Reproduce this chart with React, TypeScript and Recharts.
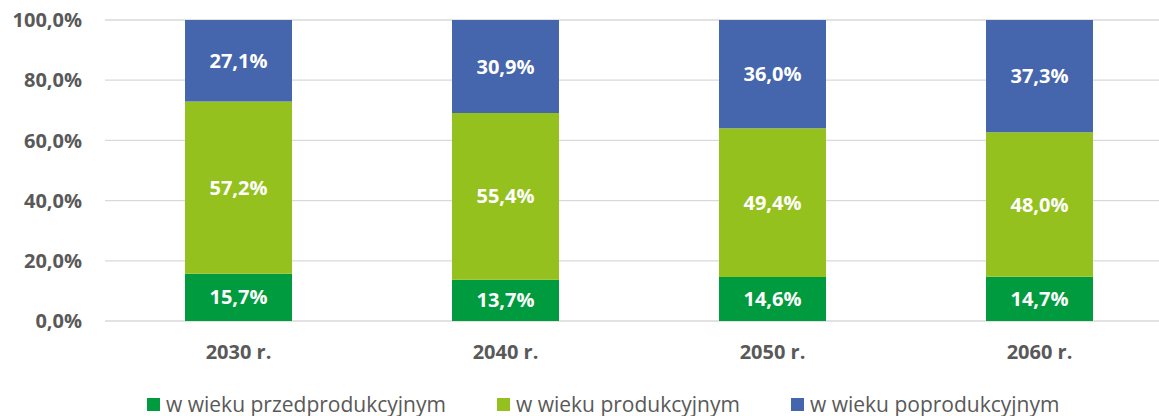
import React from 'react';
import { BarChart, Bar, XAxis, YAxis, CartesianGrid, Legend, LabelList } from 'recharts';

const categories = ['2030 r.', '2040 r.', '2050 r.', '2060 r.'];
const przed = [15.7, 13.7, 14.6, 14.7];
const prod = [57.2, 55.4, 49.4, 48.0];
const poprod = [27.1, 30.9, 36.0, 37.3];
const yTicks = [0, 20, 40, 60, 80, 100];

const seriesNames = ['w wieku przedprodukcyjnym', 'w wieku produkcyjnym', 'w wieku poprodukcyjnym'];
const colors = ['#009B3E', '#95C11F', '#4565AD'];

const data = categories.map((c, i) => ({
  name: c,
  przed: przed[i],
  prod: prod[i],
  poprod: poprod[i],
}));

const FONT = '"Open Sans", sans-serif';
const GRAY = '#595959';

const fmt = (v: number) => `${Number(v).toFixed(1).replace('.', ',')}%`;

const LegendContent = (props: any) => {
  const payload = [...(props.payload || [])].sort(
    (a: any, b: any) => seriesNames.indexOf(a.value) - seriesNames.indexOf(b.value)
  );
  const gaps = [0, 51, 51];
  return (
    <div style={{ display: 'flex', alignItems: 'center', fontFamily: FONT, fontSize: 21, lineHeight: '22px', color: GRAY, whiteSpace: 'nowrap' }}>
      {payload.map((p: any, i: number) => (
        <div key={i} style={{ display: 'flex', alignItems: 'center', marginLeft: gaps[i] }}>
          <span style={{ display: 'inline-block', width: 13, height: 13, background: p.color, marginRight: 6 }} />
          <span>{p.value}</span>
        </div>
      ))}
    </div>
  );
};

export default function App() {
  return (
    <div style={{ position: 'absolute', left: 0, top: 0, width: 1159, height: 416, overflow: 'hidden', background: '#fff' }}>
      <BarChart
        width={1173}
        height={416}
        data={data}
        margin={{ top: 20, right: 0, bottom: 0, left: 0 }}
        barSize={107}
      >
        <CartesianGrid vertical={false} stroke="#D9D9D9" strokeWidth={1.3} />
        <XAxis
          dataKey="name"
          axisLine={false}
          tickLine={false}
          tickMargin={18}
          height={73}
          tick={{ fontFamily: FONT, fontSize: 20, fontWeight: 700, fill: GRAY }}
        />
        <YAxis
          domain={[0, 100]}
          ticks={yTicks}
          width={105}
          axisLine={false}
          tickLine={false}
          tickMargin={17}
          tickFormatter={fmt}
          tick={{ fontFamily: FONT, fontSize: 20, fontWeight: 700, fill: GRAY }}
        />
        <Legend
          content={<LegendContent />}
          wrapperStyle={{ position: 'absolute', left: 147, top: 393, width: 'auto' }}
        />
        <Bar dataKey="przed" name={seriesNames[0]} stackId="a" fill={colors[0]} isAnimationActive={false}>
          <LabelList dataKey="przed" position="center" formatter={fmt} fill="#fff" style={{ fontFamily: FONT, fontSize: 20, fontWeight: 700 }} />
        </Bar>
        <Bar dataKey="prod" name={seriesNames[1]} stackId="a" fill={colors[1]} isAnimationActive={false}>
          <LabelList dataKey="prod" position="center" formatter={fmt} fill="#fff" style={{ fontFamily: FONT, fontSize: 20, fontWeight: 700 }} />
        </Bar>
        <Bar dataKey="poprod" name={seriesNames[2]} stackId="a" fill={colors[2]} isAnimationActive={false}>
          <LabelList dataKey="poprod" position="center" formatter={fmt} fill="#fff" style={{ fontFamily: FONT, fontSize: 20, fontWeight: 700 }} />
        </Bar>
      </BarChart>
    </div>
  );
}
